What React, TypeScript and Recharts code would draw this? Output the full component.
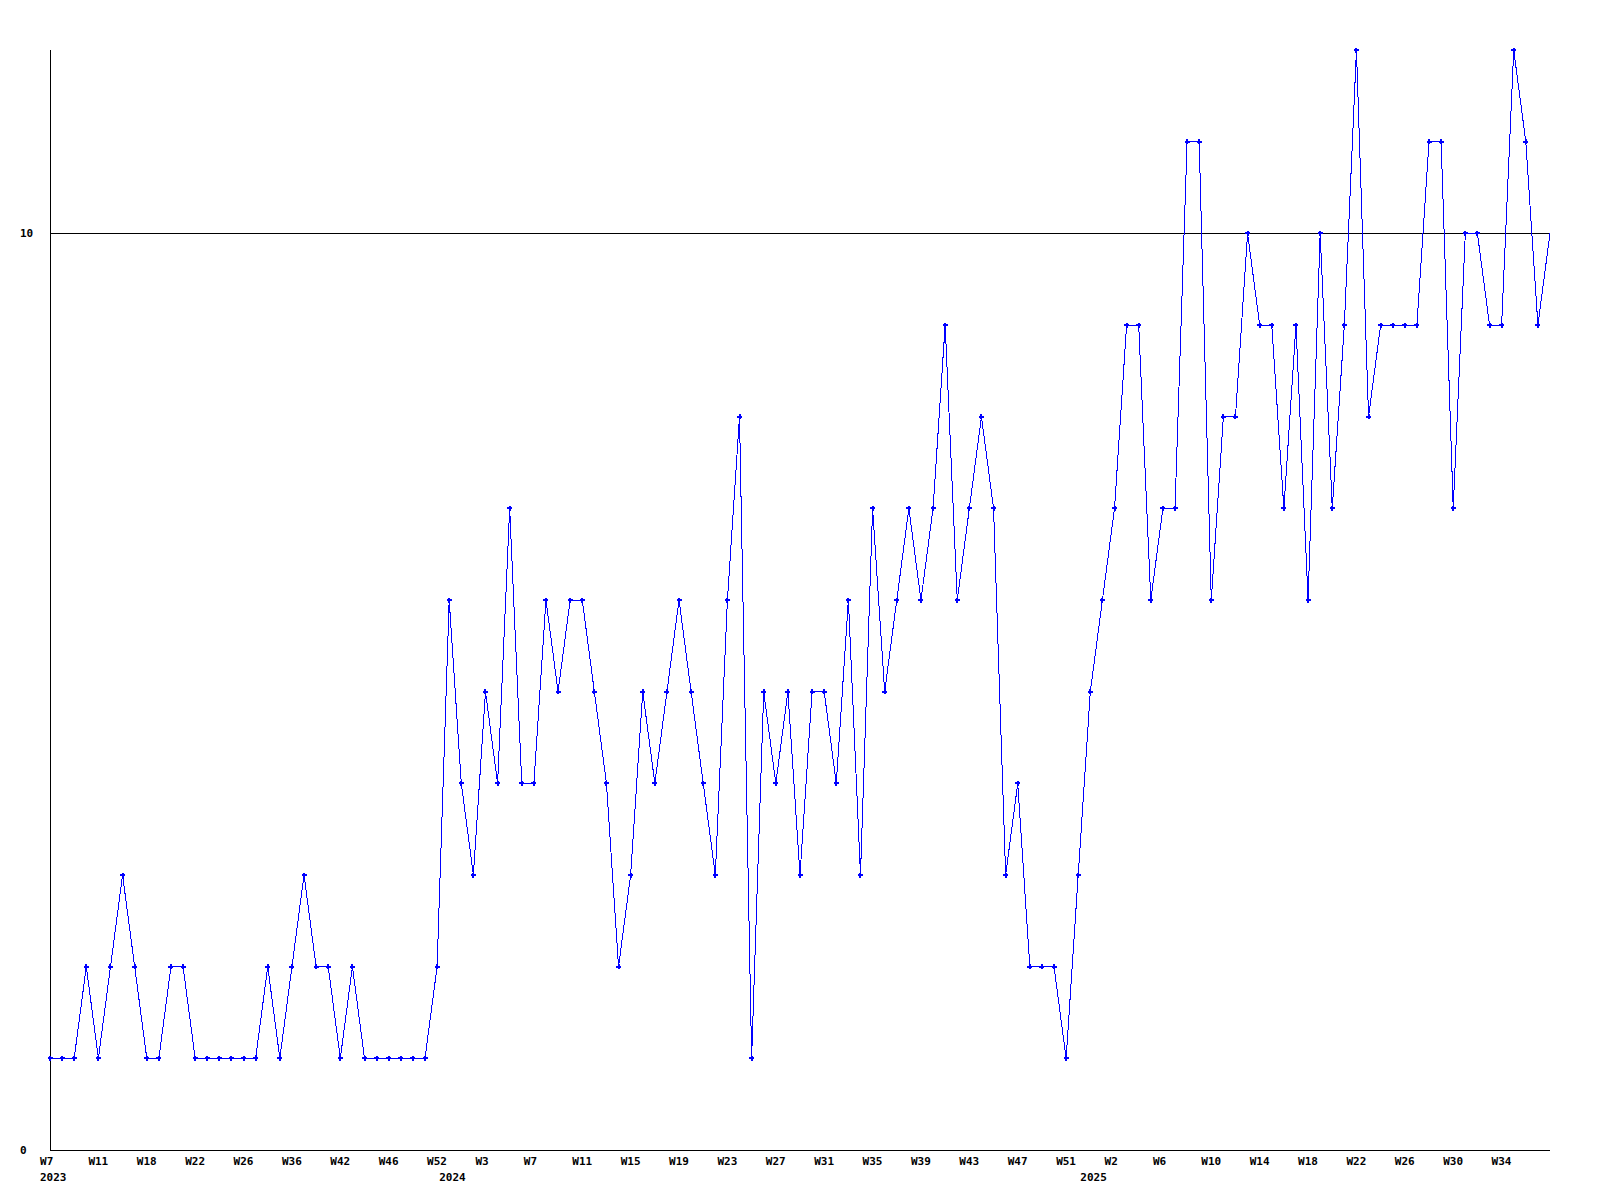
import { LineChart, Line, XAxis, YAxis, ReferenceLine } from 'recharts'

// week numbers shown per year (2023 has gaps)
const weeks2023 = [7, 8, 9, 10, 11, 12, 14, 16, 18, 19, 20, 21, 22, 23, 24, 25, 26, 29, 32, 34, 36, 38, 40, 41, 42, 43, 44, 45, 46, 48, 50, 51, 52]
const weeks2024 = [0, 1, 2, 3, 4, 5, 6, 7, 8, 9, 10, 11, 12, 13, 14, 15, 16, 17, 18, 19, 20, 21, 22, 23, 24, 25, 26, 27, 28, 29, 30, 31, 32, 33, 34, 35, 36, 37, 38, 39, 40, 41, 42, 43, 44, 45, 46, 47, 48, 49, 50, 51, 52]
const weeks2025 = [0, 1, 2, 3, 4, 5, 6, 7, 8, 9, 10, 11, 12, 13, 14, 15, 16, 17, 18, 19, 20, 21, 22, 23, 24, 25, 26, 27, 28, 29, 30, 31, 32, 33, 34, 35, 36, 37, 38]

const counts = [
  1, 1, 1, 2, 1, 2, 3, 2, 1, 1,
  2, 2, 1, 1, 1, 1, 1, 1, 2, 1,
  2, 3, 2, 2, 1, 2, 1, 1, 1, 1,
  1, 1, 2, 6, 4, 3, 5, 4, 7, 4,
  4, 6, 5, 6, 6, 5, 4, 2, 3, 5,
  4, 5, 6, 5, 4, 3, 6, 8, 1, 5,
  4, 5, 3, 5, 5, 4, 6, 3, 7, 5,
  6, 7, 6, 7, 9, 6, 7, 8, 7, 3,
  4, 2, 2, 2, 1, 3, 5, 6, 7, 9,
  9, 6, 7, 7, 11, 11, 6, 8, 8, 10,
  9, 9, 7, 9, 6, 10, 7, 9, 12, 8,
  9, 9, 9, 9, 11, 11, 7, 10, 10, 9,
  9, 12, 11, 9, 10,
]

const yTicks = [0, 10]

const FONT = 'DejaVu Sans Mono'

const data = [
  ...weeks2023.map(w => ({ year: 2023, week: w })),
  ...weeks2024.map(w => ({ year: 2024, week: w })),
  ...weeks2025.map(w => ({ year: 2025, week: w })),
].map((d, i) => ({ key: `${d.year}-W${d.week}`, year: d.year, week: d.week, count: counts[i] }))

function WeekTick(props: any) {
  const { x, payload } = props
  const i = data.findIndex(d => d.key === payload.value)
  if (i < 0) return null
  const d = data[i]
  const showWeek = i % 4 === 0 && i < data.length - 1
  const firstOfYear = i === 0 || data[i - 1].year !== d.year
  return (
    <g>
      {showWeek && (
        <text x={x - 10} y={1165} textAnchor="start" fontFamily={FONT} fontWeight="bold" fontSize={11} fill="#000">
          W{d.week}
        </text>
      )}
      {firstOfYear && (
        <text x={x - 10} y={1181} textAnchor="start" fontFamily={FONT} fontWeight="bold" fontSize={11} fill="#000">
          {d.year}
        </text>
      )}
    </g>
  )
}

function CountTick(props: any) {
  const { y, payload } = props
  return (
    <text x={20} y={y + 4} textAnchor="start" fontFamily={FONT} fontWeight="bold" fontSize={11} fill="#000">
      {payload.value}
    </text>
  )
}

const renderDot = (p: any) => {
  const { cx, cy, index } = p
  if (index === data.length - 1) return <g key={index} />
  return (
    <path
      key={index}
      d={`M${cx - 2.5},${cy}h5M${cx},${cy - 2.5}v5`}
      stroke="#0000ff"
      strokeWidth={2}
      fill="none"
    />
  )
}

export default function App() {
  return (
    <div style={{ position: 'absolute', left: 0, top: 0, width: 1600, height: 1200, background: '#fff' }}>
      <LineChart
        width={1600}
        height={1200}
        data={data}
        margin={{ top: 50, right: 50, bottom: 0, left: 0 }}
        style={{ shapeRendering: 'crispEdges' }}
      >
        <XAxis
          dataKey="key"
          height={50}
          interval={0}
          tickLine={false}
          axisLine={{ stroke: '#000', strokeWidth: 1 }}
          tick={<WeekTick />}
        />
        <YAxis
          width={50}
          domain={[0, 12]}
          ticks={yTicks}
          tickLine={false}
          axisLine={{ stroke: '#000', strokeWidth: 1 }}
          tick={<CountTick />}
        />
        <ReferenceLine y={10} stroke="#000" strokeWidth={1} />
        <Line
          type="linear"
          dataKey="count"
          stroke="#0000ff"
          strokeWidth={1}
          dot={renderDot}
          activeDot={false}
          isAnimationActive={false}
        />
      </LineChart>
    </div>
  )
}
